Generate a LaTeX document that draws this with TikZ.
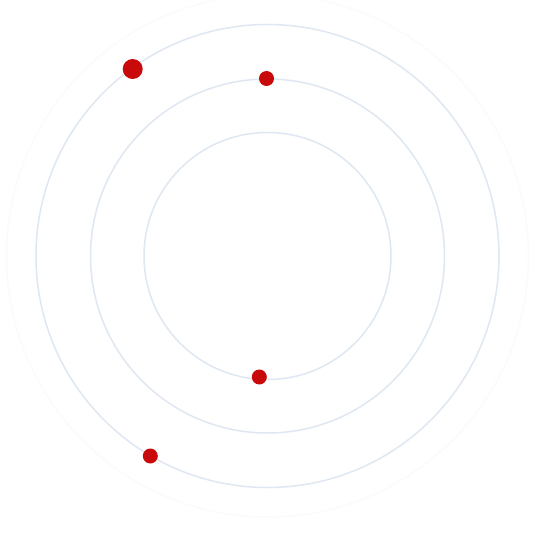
\documentclass[tikz,border=0pt]{standalone}
\definecolor{ring}{HTML}{DFE7F2}
\definecolor{faint}{HTML}{FAFBFD}
\definecolor{dotred}{HTML}{C80A0A}
\tikzset{
  orbit/.style={draw=ring, line width=1.5pt},
  faintorbit/.style={draw=faint, line width=1.5pt},
  planet/.style={circle, fill=dotred, inner sep=0pt, minimum size=#1}
}
\begin{document}
\begin{tikzpicture}[x=1pt,y=-1pt]
\useasboundingbox[fill=white] (0,0) rectangle (534,534);
\coordinate (c) at (267.5,256);
\draw[faintorbit] (c) circle[radius=261];
\draw[orbit] (c) circle[radius=231.5];
\draw[orbit] (c) circle[radius=177];
\draw[orbit] (c) circle[radius=123.5];
\node[planet=20pt] (p1) at (132.7,69) {};
\node[planet=15pt] (p2) at (266.5,78.5) {};
\node[planet=15pt] (p3) at (259.3,377) {};
\node[planet=15pt] (p4) at (150.3,456) {};
\end{tikzpicture}
\end{document}
